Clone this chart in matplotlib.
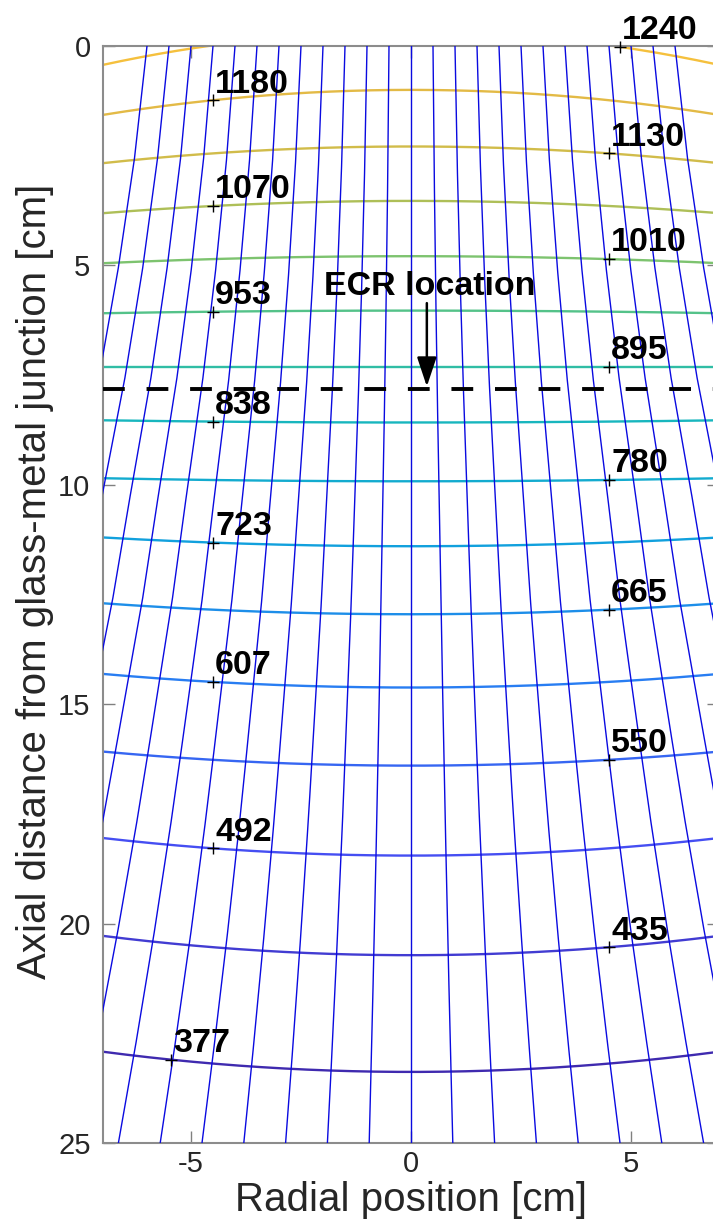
import numpy as np
import matplotlib
matplotlib.use('Agg')
import matplotlib.pyplot as plt
from matplotlib.colors import LinearSegmentedColormap, Normalize

plt.rcParams['font.family'] = ['Liberation Sans', 'DejaVu Sans']
plt.rcParams['axes.unicode_minus'] = False

# |B| contour levels [G] with their axial depth on the axis (r = 0) and at r = 7 cm
levels = [1240, 1180, 1130, 1070, 1010, 953, 895, 838, 780, 723, 665, 607, 550, 492, 435, 377]
z_axis = [-0.33, 1.00, 2.29, 3.53, 4.79, 6.03, 7.31, 8.58, 9.92, 11.40, 12.95, 14.62, 16.40, 18.45, 20.72, 23.38]
z_edge = [0.43, 1.57, 2.67, 3.81, 4.95, 6.09, 7.31, 8.53, 9.85, 11.20, 12.70, 14.31, 16.08, 18.05, 20.28, 22.92]
# radial position of each contour label
label_r = [4.75, -4.5, 4.5, -4.5, 4.5, -4.5, 4.5, -4.5, 4.5, -4.5, 4.5, -4.5, 4.5, -4.5, 4.5, -5.45]

# field lines traced from the glass-metal junction
r_start = [-6.0, -5.5, -5.0, -4.5, -4.0, -3.5, -3.0, -2.5, -2.0, -1.5, -1.0, -0.5, 0.0,
           0.5, 1.0, 1.5, 2.0, 2.5, 3.0, 3.5, 4.0, 4.5, 5.0, 5.5, 6.0]
# radial spreading factor of the flux tube along z
spread_z = [0.0, 2.5, 5.0, 7.5, 10.0, 12.5, 15.0, 17.5, 20.0, 22.5, 25.0]
spread = [1.0, 1.046, 1.107, 1.180, 1.268, 1.352, 1.450, 1.550, 1.658, 1.775, 1.900]

ecr_z = 7.82

# parula-like colour map
parula = LinearSegmentedColormap.from_list('parula', [
    (0.000, (0.242, 0.150, 0.660)),
    (0.125, (0.275, 0.300, 0.950)),
    (0.250, (0.150, 0.500, 0.950)),
    (0.375, (0.060, 0.640, 0.860)),
    (0.500, (0.100, 0.730, 0.720)),
    (0.625, (0.400, 0.770, 0.480)),
    (0.750, (0.780, 0.740, 0.300)),
    (0.875, (0.960, 0.720, 0.260)),
    (1.000, (0.977, 0.984, 0.080)),
])
norm = Normalize(vmin=365, vmax=1350)

fig = plt.figure(figsize=(7.13, 12.28), dpi=100)
ax = fig.add_axes([103 / 713, 85 / 1228, 616 / 713, 1097 / 1228])

# |B| contours
x = np.linspace(-7, 7, 300)
for lev, zc, ze in zip(levels, z_axis, z_edge):
    ax.plot(x, zc + (ze - zc) * (x / 7) ** 2, color=parula(norm(lev)), lw=1.7, zorder=2)

# magnetic field lines
z = np.linspace(0, 25, 500)
s = np.interp(z, spread_z, spread)
for r0 in r_start:
    ax.plot(r0 * s, z, color='#0a0ae0', lw=1.0, zorder=3)

# contour labels
for lev, zc, ze, rl in zip(levels, z_axis, z_edge, label_r):
    zl = zc + (ze - zc) * (rl / 7) ** 2
    ax.plot(rl, zl, marker='+', color='k', ms=8, mew=1.0, zorder=5, clip_on=False)
    ax.annotate(f'{lev}', (rl, zl), xytext=(1.5, 5.5), textcoords='offset points',
                ha='left', va='baseline', fontsize=24.5, fontweight='bold',
                zorder=6, annotation_clip=False)

# ECR surface
ax.axhline(ecr_z, color='k', lw=2.8, dashes=(5.6, 5.6), zorder=4)
ax.annotate('', xy=(0.36, ecr_z - 0.06), xytext=(0.36, 5.86),
            arrowprops=dict(arrowstyle='-|>,head_length=0.9,head_width=0.3',
                            color='k', lw=1.8, shrinkA=0, shrinkB=0, mutation_scale=20),
            zorder=6)
ax.text(0.43, 5.67, 'ECR location', ha='center', va='baseline',
        fontsize=24.5, fontweight='bold', zorder=6)

ax.set_xlim(-7, 7)
ax.set_ylim(25, 0)
ax.set_xticks([-5, 0, 5])
ax.set_yticks([0, 5, 10, 15, 20, 25])
ax.tick_params(direction='in', length=8.5, width=1.0, color='#808080',
               labelcolor='#262626', labelsize=21, top=True, right=True)
ax.tick_params(axis='x', pad=5)
ax.tick_params(axis='y', pad=9)
for sp in ax.spines.values():
    sp.set_color('#8c8c8c')
    sp.set_linewidth(1.5)

fig.text(411 / 713, 1 - 1200 / 1228, 'Radial position [cm]', ha='center', va='center',
         fontsize=29, color='#262626')
fig.text(35 / 713, 1 - 581 / 1228, 'Axial distance from glass-metal junction [cm]',
         ha='center', va='center', rotation=90, fontsize=29, color='#262626')

fig.savefig('out.png', dpi=100)
